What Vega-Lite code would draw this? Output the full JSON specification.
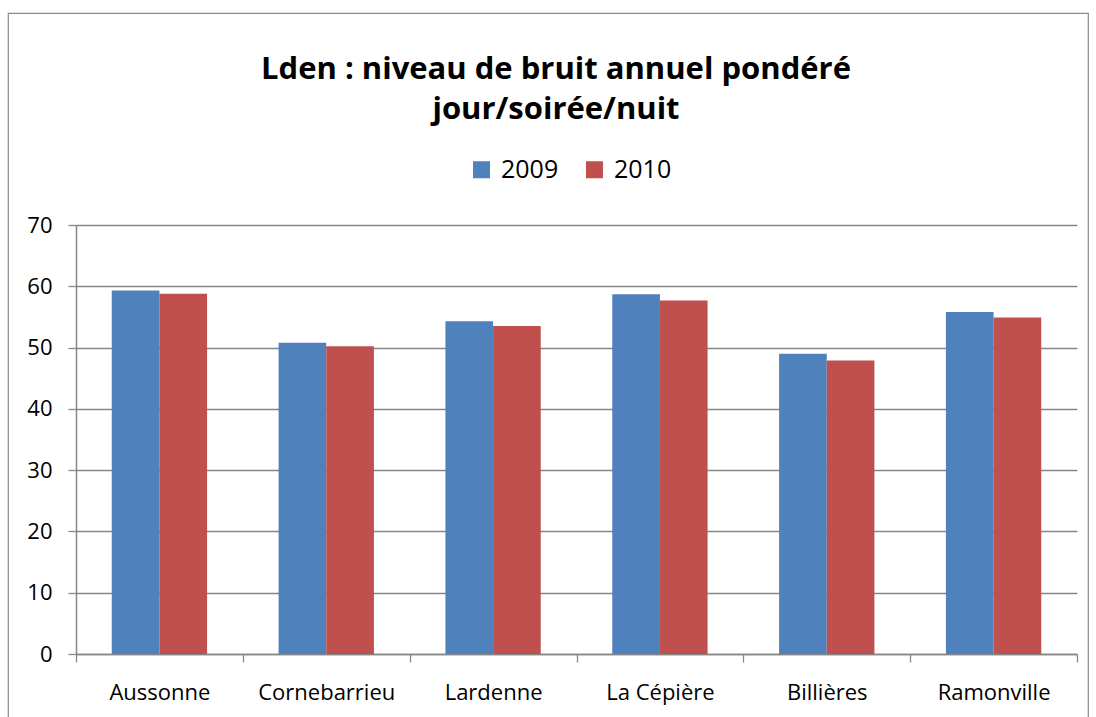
{
  "$schema": "https://vega.github.io/schema/vega-lite/v6.json",
  "width": 1080,
  "height": 712,
  "autosize": {"type": "none"},
  "padding": {"left": 8, "top": 13, "right": 8, "bottom": 0},
  "background": "white",
  "config": {
    "font": "Open Sans",
    "view": {"stroke": "#8a8a8a", "strokeWidth": 1.2}
  },
  "title": {
    "text": ["Lden : niveau de bruit annuel pondéré", "jour/soirée/nuit"],
    "font": "Open Sans",
    "fontSize": 31,
    "fontWeight": "bold",
    "color": "#000000",
    "anchor": "middle",
    "frame": "group",
    "lineHeight": 40,
    "offset": -113,
    "dx": 8
  },
  "data": {
    "values": [
      {"site": "Aussonne", "annee": "2009", "lden": 59.3},
      {"site": "Aussonne", "annee": "2010", "lden": 58.8},
      {"site": "Cornebarrieu", "annee": "2009", "lden": 50.8},
      {"site": "Cornebarrieu", "annee": "2010", "lden": 50.2},
      {"site": "Lardenne", "annee": "2009", "lden": 54.3},
      {"site": "Lardenne", "annee": "2010", "lden": 53.5},
      {"site": "La Cépière", "annee": "2009", "lden": 58.7},
      {"site": "La Cépière", "annee": "2010", "lden": 57.7},
      {"site": "Billières", "annee": "2009", "lden": 49.0},
      {"site": "Billières", "annee": "2010", "lden": 47.9},
      {"site": "Ramonville", "annee": "2009", "lden": 55.8},
      {"site": "Ramonville", "annee": "2010", "lden": 54.9}
    ]
  },
  "mark": {"type": "bar"},
  "encoding": {
    "x": {
      "field": "site",
      "type": "nominal",
      "sort": ["Aussonne", "Cornebarrieu", "Lardenne", "La Cépière", "Billières", "Ramonville"],
      "scale": {"range": [68, 1069], "paddingInner": 0, "paddingOuter": 0},
      "axis": {
        "title": null,
        "orient": "bottom",
        "offset": -71,
        "labelAngle": 0,
        "labelFont": "Open Sans",
        "labelFontSize": 22,
        "labelColor": "#000000",
        "labelPadding": 20,
        "tickBand": "extent",
        "tickSize": 8,
        "tickColor": "#868686",
        "tickWidth": 1.3,
        "domainColor": "#868686",
        "domainWidth": 1.5,
        "grid": false
      }
    },
    "xOffset": {
      "field": "annee",
      "type": "nominal",
      "scale": {"paddingInner": 0, "paddingOuter": 0.75}
    },
    "y": {
      "field": "lden",
      "type": "quantitative",
      "scale": {"domain": [0, 70], "range": [641, 212], "nice": false, "zero": true},
      "axis": {
        "title": null,
        "offset": -68,
        "values": [0, 10, 20, 30, 40, 50, 60, 70],
        "labelFont": "Open Sans",
        "labelFontSize": 22,
        "labelColor": "#000000",
        "labelPadding": 16,
        "tickSize": 8,
        "tickColor": "#868686",
        "tickWidth": 1.3,
        "domainColor": "#868686",
        "domainWidth": 1.5,
        "grid": true,
        "gridColor": "#868686",
        "gridWidth": 1.3
      }
    },
    "color": {
      "field": "annee",
      "type": "nominal",
      "scale": {"domain": ["2009", "2010"], "range": ["#4F81BD", "#C0504D"]},
      "legend": {
        "title": null,
        "orient": "none",
        "legendX": 461,
        "legendY": 144,
        "direction": "horizontal",
        "symbolType": "square",
        "symbolSize": 289,
        "symbolStrokeWidth": 0,
        "labelFont": "Open Sans",
        "labelFontSize": 25,
        "labelColor": "#000000",
        "labelOffset": 7,
        "columnPadding": 23
      }
    }
  }
}
